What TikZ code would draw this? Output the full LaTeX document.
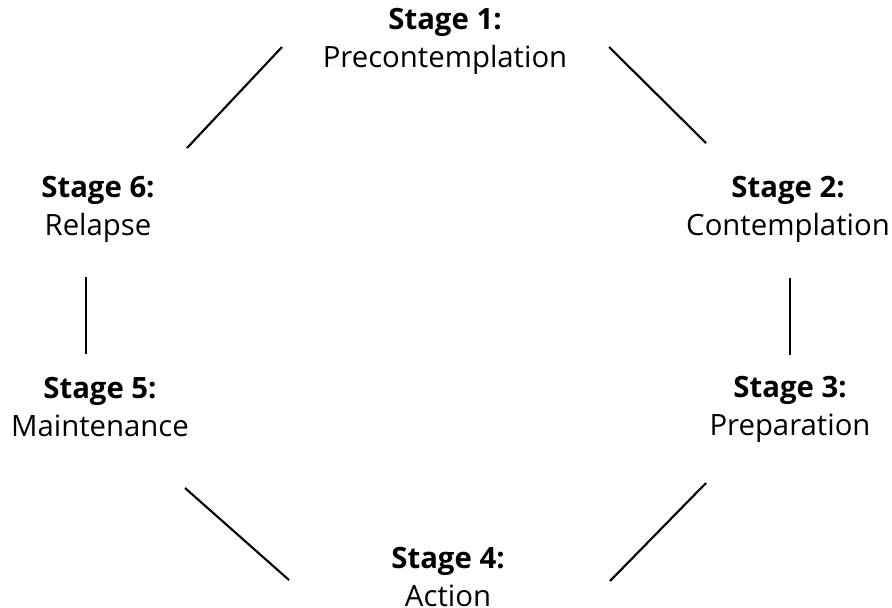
\documentclass[tikz,border=0pt]{standalone}
\usepackage{fontspec}
\setmainfont{Open Sans}
\usetikzlibrary{positioning}

\begin{document}
\begin{tikzpicture}[
    x=0.75pt, y=-0.75pt,
    % Styles for stages and links
    stage/.style={align=center, inner sep=0pt, font=\fontsize{22}{28.5}\selectfont},
    link/.style={line width=1.6pt}
]
    \useasboundingbox (0,0) rectangle (892,607);

    % --- NODES ---
    % Clockwise from the top
    \node [stage] (s1) at (445,41) {\textbf{Stage 1:}\\Precontemplation};
    \node [stage] (s2) at (788,209) {\textbf{Stage 2:}\\Contemplation};
    \node [stage] (s3) at (790,409) {\textbf{Stage 3:}\\Preparation};
    \node [stage] (s4) at (448,577) {\textbf{Stage 4:}\\Action};
    \node [stage] (s5) at (100,407) {\textbf{Stage 5:}\\Maintenance};
    \node [stage] (s6) at (98,209) {\textbf{Stage 6:}\\Relapse};

    % Line ends
    \coordinate (s1w) at (282,47);
    \coordinate (s1e) at (609,47);
    \coordinate (s2n) at (706,143);
    \coordinate (s2s) at (790,278);
    \coordinate (s3n) at (790,355);
    \coordinate (s3s) at (706,483);
    \coordinate (s4e) at (610,581);
    \coordinate (s4w) at (289,580);
    \coordinate (s5s) at (185,488);
    \coordinate (s5n) at (86,354);
    \coordinate (s6s) at (86,277);
    \coordinate (s6n) at (187,148);

    % --- CONNECTIONS ---
    \draw [link] (s1e) -- (s2n);
    \draw [link] (s2s) -- (s3n);
    \draw [link] (s3s) -- (s4e);
    \draw [link] (s4w) -- (s5s);
    \draw [link] (s5n) -- (s6s);
    \draw [link] (s6n) -- (s1w);

\end{tikzpicture}
\end{document}
